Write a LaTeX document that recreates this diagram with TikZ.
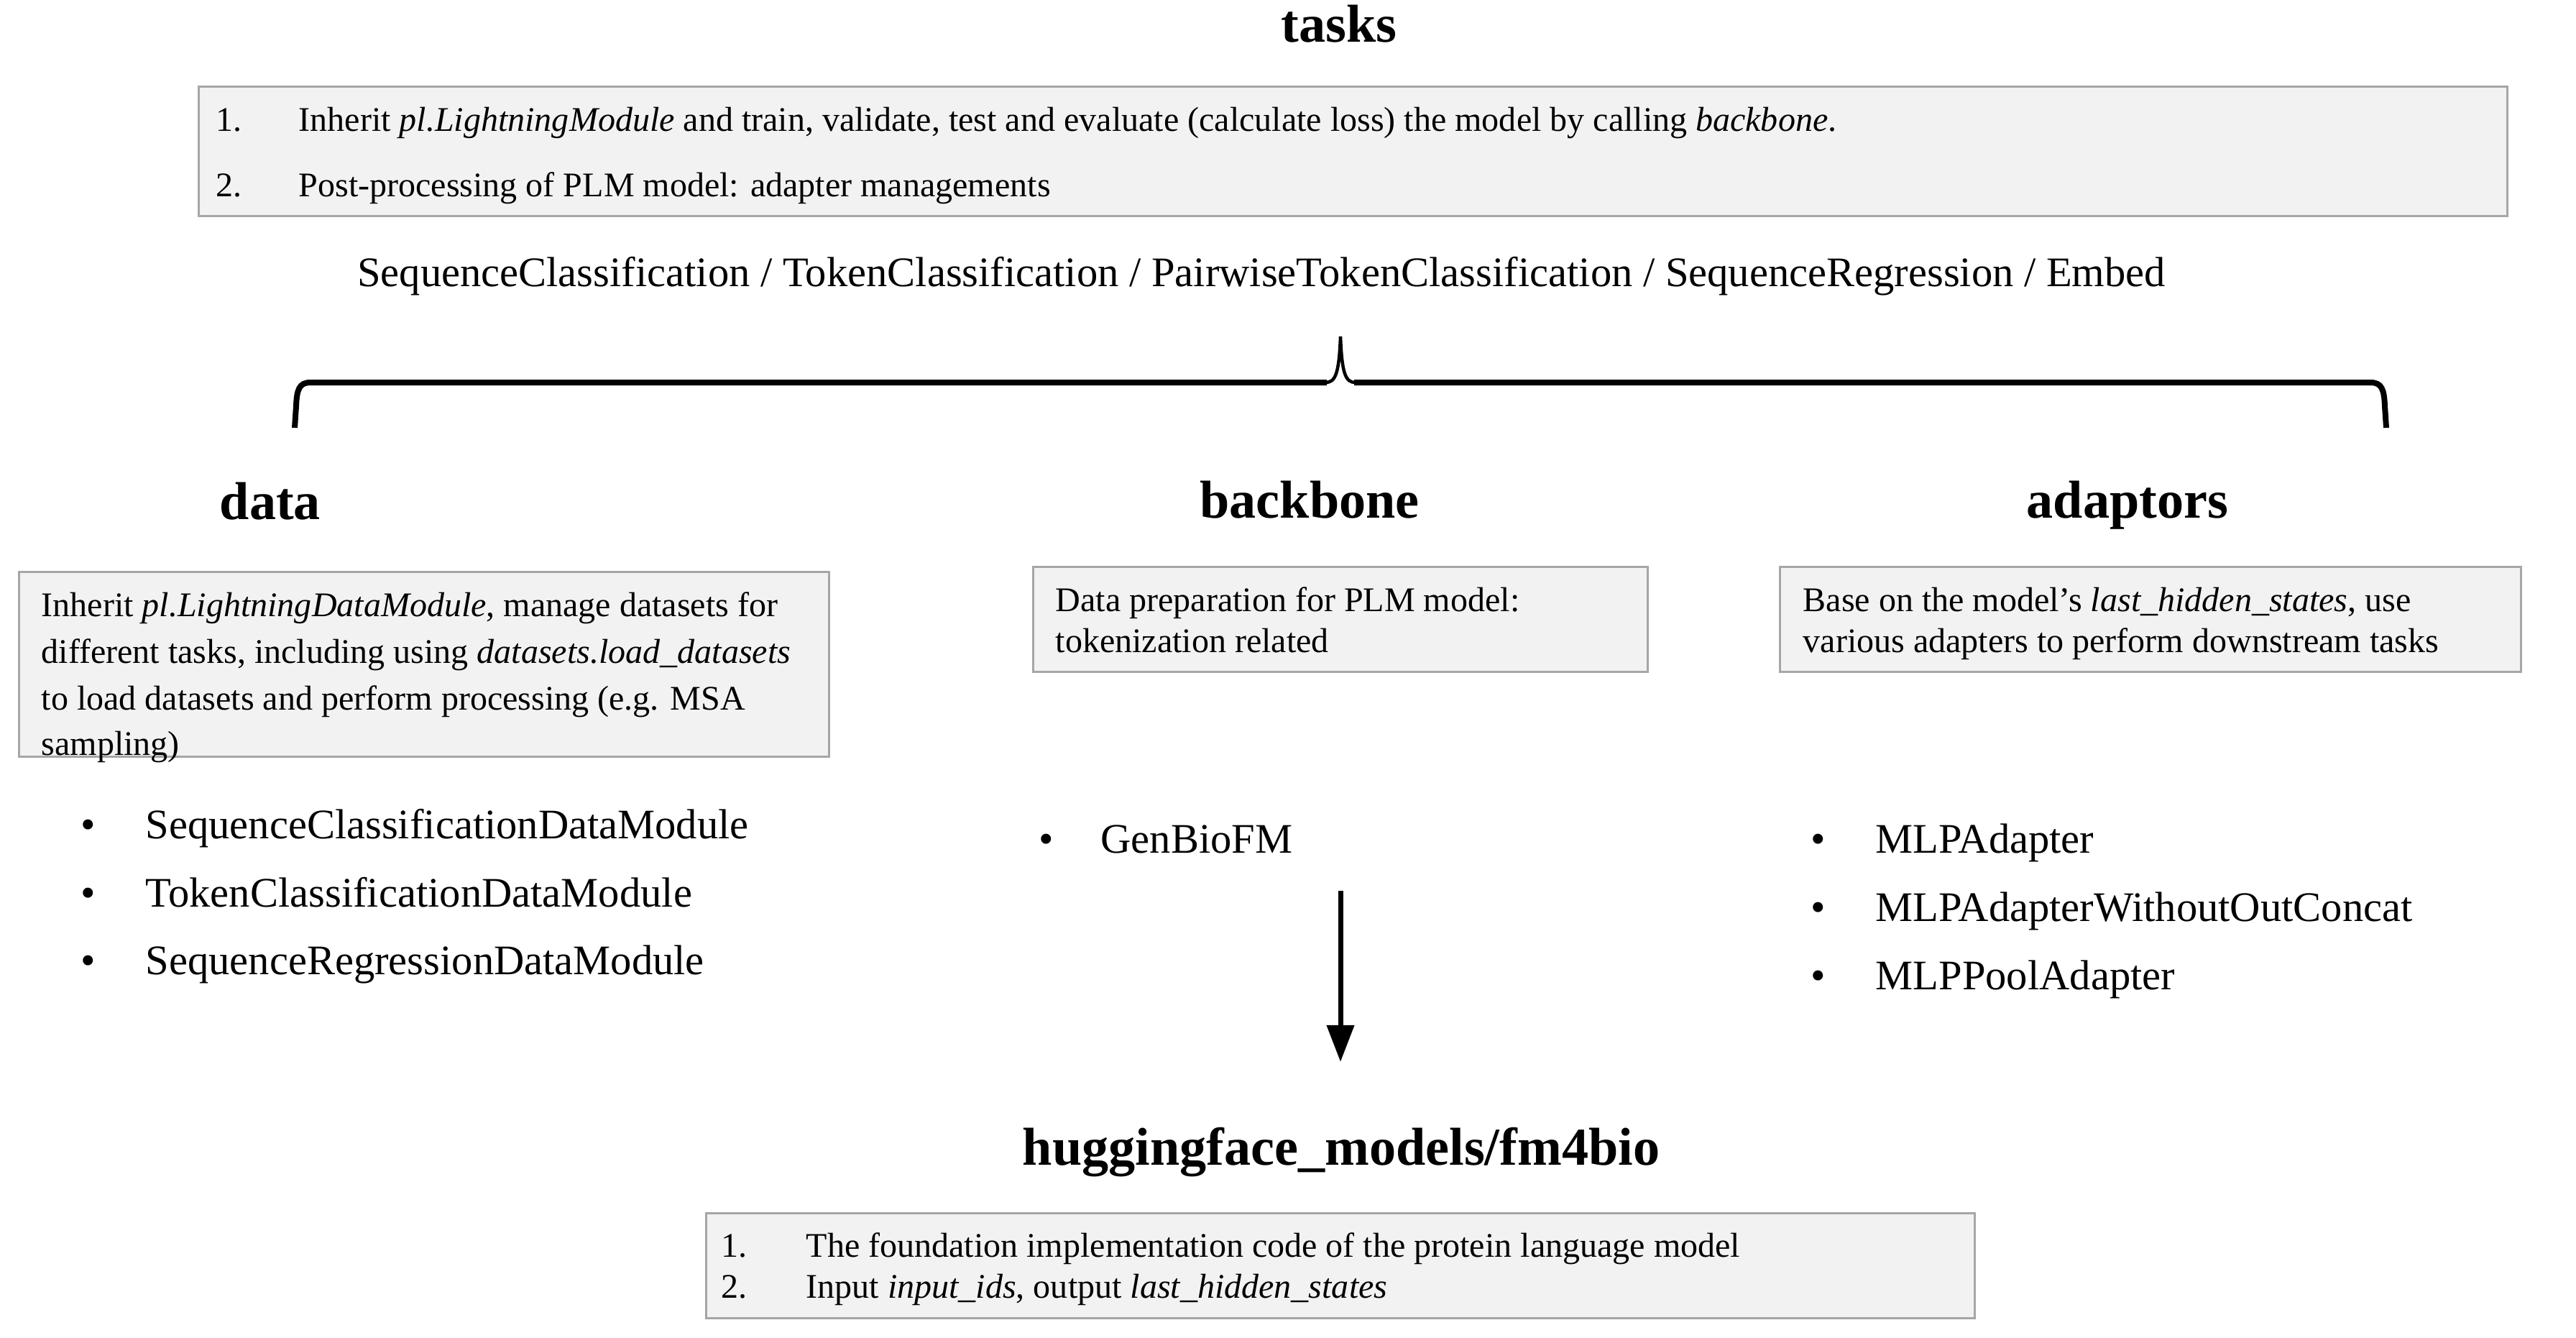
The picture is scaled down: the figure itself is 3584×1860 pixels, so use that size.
\documentclass[tikz,border=0pt]{standalone}
\usepackage{fontspec}
\setmainfont{Liberation Serif}
\usetikzlibrary{arrows.meta}
\definecolor{boxfill}{HTML}{F2F2F2}
\definecolor{boxline}{HTML}{A6A6A6}
\tikzset{
  box/.style={draw=boxline, fill=boxfill, line width=0.03cm, inner sep=0pt},
  small/.style={inner sep=0pt, anchor=base west, font=\fontsize{13.66}{16}\selectfont},
  big/.style={inner sep=0pt, anchor=base west, font=\fontsize{16.65}{20}\selectfont},
  bul/.style={inner sep=0pt, anchor=base, font=\fontsize{16.65}{20}\selectfont},
  head/.style={inner sep=0pt, anchor=base, font=\fontsize{21.1}{25}\selectfont\bfseries},
}
\begin{document}
\begin{tikzpicture}[x=0.01cm, y=-0.01cm]
\useasboundingbox (0,0) rectangle (3584,1860);
% tasks
\node[head] (tasks) at (1863,58) {tasks};
\node[box, minimum width=32.11cm, minimum height=1.79cm] (tasksbox) at (1882.5,210.5) {};
\node[small] (t1n) at (300,182) {1.};
\node[small] (t1) at (415,182) {Inherit \textit{pl.LightningModule} and train, validate, test and evaluate (calculate loss) the model by calling \textit{backbone}.};
\node[small] (t2n) at (300,273) {2.};
\node[small] (t2) at (415,273) {Post-processing of PLM model: adapter managements};
\node[big, anchor=base] (seq) at (1755,398) {SequenceClassification / TokenClassification / PairwiseTokenClassification / SequenceRegression / Embed};
% brace
\draw[line width=0.08cm] (410,595) -- (412,565) .. controls (413,542) and (416,532) .. (432,532) -- (1846,532);
\draw[line width=0.08cm] (1884,532) -- (3298,532) .. controls (3314,532) and (3317,542) .. (3318,565) -- (3320,595);
\draw[line width=0.045cm] (1844,532) .. controls (1858,532) and (1863,520) .. (1865,468) .. controls (1867,520) and (1872,532) .. (1886,532);
% headings
\node[head] (data) at (376,722) {data};
\node[head] (backbone) at (1822,720) {backbone};
\node[head] (adaptors) at (2960,720) {adaptors};
% data box
\node[box, minimum width=11.26cm, minimum height=2.56cm] (databox) at (590,924) {};
\node[small] (d1) at (57,857) {Inherit \textit{pl.LightningDataModule}, manage datasets for};
\node[small] (d2) at (57,922) {different tasks, including using \textit{datasets.load\_datasets}};
\node[small] (d3) at (57,987) {to load datasets and perform processing (e.g. MSA};
\node[small] (d4) at (57,1050) {sampling)};
% backbone box
\node[box, minimum width=8.54cm, minimum height=1.45cm] (bbbox) at (1865,861.5) {};
\node[small] (b1) at (1468,850) {Data preparation for PLM model:};
\node[small] (b2) at (1468,907) {tokenization related};
% adaptors box
\node[box, minimum width=10.30cm, minimum height=1.45cm] (adbox) at (2992,861.5) {};
\node[small] (a1) at (2508,850) {Base on the model’s \textit{last\_hidden\_states}, use};
\node[small] (a2) at (2508,907) {various adapters to perform downstream tasks};
% data bullets
\node[bul] (db1) at (123,1166) {•};
\node[big] (dl1) at (202,1166) {SequenceClassificationDataModule};
\node[bul] (db2) at (123,1261) {•};
\node[big] (dl2) at (202,1261) {TokenClassificationDataModule};
\node[bul] (db3) at (123,1355) {•};
\node[big] (dl3) at (202,1355) {SequenceRegressionDataModule};
% backbone bullet
\node[bul] (bb1) at (1456,1186) {•};
\node[big] (bl1) at (1531,1186) {GenBioFM};
% adaptor bullets
\node[bul] (ab1) at (2530,1186) {•};
\node[big] (al1) at (2609,1186) {MLPAdapter};
\node[bul] (ab2) at (2530,1281) {•};
\node[big] (al2) at (2609,1281) {MLPAdapterWithoutOutConcat};
\node[bul] (ab3) at (2530,1376) {•};
\node[big] (al3) at (2609,1376) {MLPPoolAdapter};
% arrow
\coordinate (arrs) at (1865,1239);
\coordinate (arre) at (1865,1477);
\draw[line width=0.07cm, -{Triangle[length=0.51cm, width=0.37cm]}] (arrs) -- (arre);
% fm4bio
\node[head] (fm) at (1866,1620) {huggingface\_models/fm4bio};
\node[box, minimum width=17.64cm, minimum height=1.45cm] (fmbox) at (1865,1760.5) {};
\node[small] (f1n) at (1003,1748) {1.};
\node[small] (f1) at (1121,1748) {The foundation implementation code of the protein language model};
\node[small] (f2n) at (1003,1805) {2.};
\node[small] (f2) at (1121,1805) {Input \textit{input\_ids}, output \textit{last\_hidden\_states}};
\end{tikzpicture}
\end{document}
